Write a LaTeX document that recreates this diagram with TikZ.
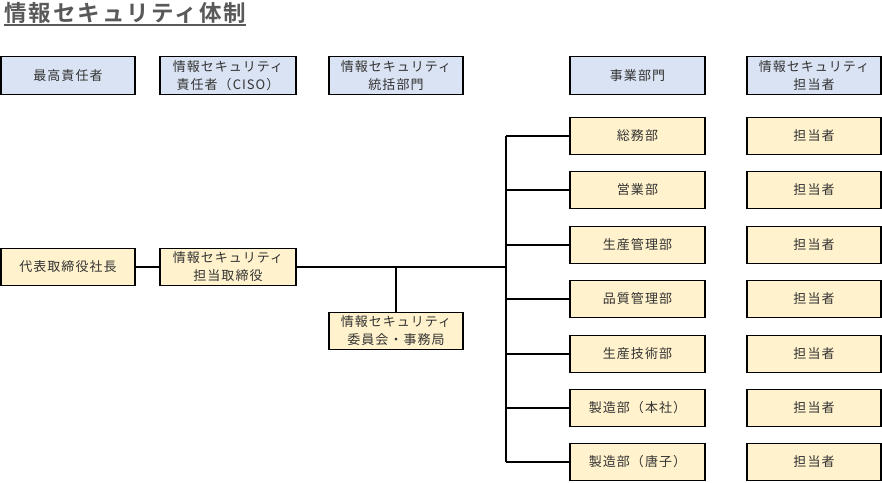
\documentclass[tikz,border=0pt]{standalone}
\usepackage{fontspec}
\setmainfont{Noto Sans CJK JP}
\newfontfamily\boxfont[LetterSpace=8]{Noto Sans CJK JP}
\newfontfamily\titlefont[LetterSpace=9]{Noto Sans CJK JP Bold}
\definecolor{txt}{HTML}{333333}
\definecolor{ttl}{HTML}{595959}
\definecolor{hdr}{HTML}{DAE3F3}
\definecolor{org}{HTML}{FFF2CC}
\tikzset{
  box/.style={draw=black, line width=1.3pt, rectangle, minimum height=37.5pt, align=center, inner sep=0pt, text=txt, font=\boxfont\fontsize{13}{18}\selectfont},
  head/.style={box, fill=hdr},
  unit/.style={box, fill=org},
  wA/.style={minimum width=134pt},
  wB/.style={minimum width=136pt},
  wD/.style={minimum width=135pt},
  conn/.style={line width=1.3pt, black},
}
\begin{document}
\begin{tikzpicture}[x=1pt,y=-1pt]
\useasboundingbox (0,0) rectangle (882,482);
% title
\node[anchor=base west, inner sep=0pt, text=ttl, font=\titlefont\fontsize{22.5}{26}\selectfont] (title) at (4,21) {情報セキュリティ体制};
\draw[ttl, line width=2pt] ([yshift=-3.5pt]title.base west) -- ([yshift=-3.5pt]title.base east);
% header row
\node[head, wA] (h1) at (68,75.5) {最高責任者};
\node[head, wB] (h2) at (228,75.5) {情報セキュリティ\\責任者（CISO）};
\node[head, wA] (h3) at (396,75.5) {情報セキュリティ\\統括部門};
\node[head, wD] (h4) at (637.5,75.5) {事業部門};
\node[head, wA] (h5) at (814,75.5) {情報セキュリティ\\担当者};
% left chain
\node[unit, wA] (ceo) at (68,267) {代表取締役社長};
\node[unit, wB] (dir) at (228,267) {情報セキュリティ\\担当取締役};
\node[unit, wA] (com) at (396,331) {情報セキュリティ\\委員会・事務局};
% departments
\node[unit, wD] (d1) at (637.5,136) {総務部};
\node[unit, wD] (d2) at (637.5,190) {営業部};
\node[unit, wD] (d3) at (637.5,245) {生産管理部};
\node[unit, wD] (d4) at (637.5,299) {品質管理部};
\node[unit, wD] (d5) at (637.5,354) {生産技術部};
\node[unit, wD] (d6) at (637.5,408) {製造部（本社）};
\node[unit, wD] (d7) at (637.5,462) {製造部（唐子）};
% persons
\node[unit, wA] (p1) at (814,136) {担当者};
\node[unit, wA] (p2) at (814,190) {担当者};
\node[unit, wA] (p3) at (814,245) {担当者};
\node[unit, wA] (p4) at (814,299) {担当者};
\node[unit, wA] (p5) at (814,354) {担当者};
\node[unit, wA] (p6) at (814,408) {担当者};
\node[unit, wA] (p7) at (814,462) {担当者};
% connectors
\coordinate (tj) at (506,267);
\coordinate (cj) at (396,267);
\coordinate (ttop) at (506,136);
\coordinate (tbot) at (506,462);
\draw[conn] (ceo.east) -- (dir.west);
\draw[conn] (dir.east) -- (tj);
\draw[conn] (cj) -- (com.north);
\draw[conn] (ttop) -- (tbot);
\foreach \d in {d1,d2,d3,d4,d5,d6,d7}{
  \draw[conn] (\d.west) -- (tj |- \d.west);
}
\end{tikzpicture}
\end{document}
